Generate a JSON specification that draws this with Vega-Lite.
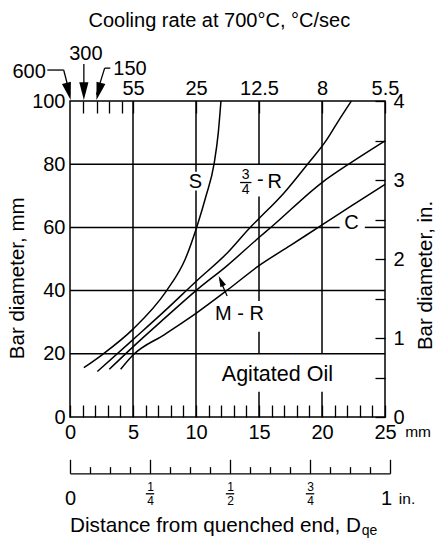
{
  "$schema": "https://vega.github.io/schema/vega-lite/v6.json",
  "width": 315,
  "height": 316,
  "autosize": {"type": "none"},
  "padding": {"left": 70, "top": 101, "right": 50, "bottom": 129},
  "background": "white",
  "config": {
    "font": "Liberation Sans",
    "view": {"stroke": "black", "strokeWidth": 1.5},
    "axis": {"labelColor": "black", "tickColor": "black", "domainColor": "black", "tickWidth": 1.3, "domainWidth": 1.3, "grid": false, "labelFlush": false, "labelOverlap": false, "labelBound": false, "labelFont": "Liberation Sans"}
  },
  "datasets": {
    "grid": [
      {"x": 0, "y": 20, "x2": 25, "y2": 20},
      {"x": 0, "y": 40, "x2": 25, "y2": 40},
      {"x": 0, "y": 60, "x2": 21.4, "y2": 60},
      {"x": 23.4, "y": 60, "x2": 25, "y2": 60},
      {"x": 0, "y": 80, "x2": 25, "y2": 80},
      {"x": 5, "y": 0, "x2": 5, "y2": 100},
      {"x": 10, "y": 0, "x2": 10, "y2": 71.7},
      {"x": 10, "y": 77.6, "x2": 10, "y2": 100},
      {"x": 15, "y": 0, "x2": 15, "y2": 8},
      {"x": 15, "y": 20, "x2": 15, "y2": 27},
      {"x": 15, "y": 36.7, "x2": 15, "y2": 69.8},
      {"x": 15, "y": 80, "x2": 15, "y2": 100},
      {"x": 20, "y": 0, "x2": 20, "y2": 8},
      {"x": 20, "y": 20, "x2": 20, "y2": 100}
    ],
    "segs": [
      {"x": -1.8, "y": 109.8, "x2": -0.5, "y2": 109.8},
      {"x": -0.5, "y": 109.8, "x2": 0, "y2": 102},
      {"x": 1.1, "y": 111.7, "x2": 1.1, "y2": 102},
      {"x": 2.75, "y": 110.4, "x2": 3.2, "y2": 110.4},
      {"x": 2.75, "y": 110.4, "x2": 2.1, "y2": 102},
      {"x": 12.47, "y": 38.3, "x2": 11.9, "y2": 43.5},
      {"x": 13.5, "y": 74.2, "x2": 14.4, "y2": 74.2},
      {"x": 6.02, "y": -24.3, "x2": 6.68, "y2": -24.3},
      {"x": 12.37, "y": -24.3, "x2": 13.03, "y2": -24.3},
      {"x": 18.72, "y": -24.3, "x2": 19.38, "y2": -24.3}
    ],
    "curves": [
      {"s": "S", "x": 1.1, "y": 15.6}, {"s": "S", "x": 2.65, "y": 20}, {"s": "S", "x": 5, "y": 27.8},
      {"s": "S", "x": 7.67, "y": 40}, {"s": "S", "x": 9.15, "y": 50}, {"s": "S", "x": 10.05, "y": 60},
      {"s": "S", "x": 10.8, "y": 70}, {"s": "S", "x": 11.43, "y": 80}, {"s": "S", "x": 11.77, "y": 90},
      {"s": "S", "x": 11.98, "y": 100},
      {"s": "3/4-R", "x": 2.17, "y": 14.4}, {"s": "3/4-R", "x": 5, "y": 24.5}, {"s": "3/4-R", "x": 7.5, "y": 33.5},
      {"s": "3/4-R", "x": 10, "y": 42.9}, {"s": "3/4-R", "x": 12.5, "y": 52}, {"s": "3/4-R", "x": 14.3, "y": 60},
      {"s": "3/4-R", "x": 15, "y": 62.8}, {"s": "3/4-R", "x": 17, "y": 71}, {"s": "3/4-R", "x": 18.85, "y": 80},
      {"s": "3/4-R", "x": 20.35, "y": 87.6}, {"s": "3/4-R", "x": 21.27, "y": 93.5}, {"s": "3/4-R", "x": 22.33, "y": 100},
      {"s": "M-R", "x": 3.12, "y": 15.1}, {"s": "M-R", "x": 5, "y": 22.2}, {"s": "M-R", "x": 7.5, "y": 31.2},
      {"s": "M-R", "x": 10, "y": 40}, {"s": "M-R", "x": 12.5, "y": 48}, {"s": "M-R", "x": 15, "y": 56.8},
      {"s": "M-R", "x": 16, "y": 60.2}, {"s": "M-R", "x": 20, "y": 74.2}, {"s": "M-R", "x": 22.3, "y": 80.5},
      {"s": "M-R", "x": 25, "y": 87.4},
      {"s": "C", "x": 4.02, "y": 15.1}, {"s": "C", "x": 5, "y": 19.6}, {"s": "C", "x": 7.5, "y": 26.1},
      {"s": "C", "x": 10, "y": 32.8}, {"s": "C", "x": 12.5, "y": 40.2}, {"s": "C", "x": 15, "y": 47.9},
      {"s": "C", "x": 17.5, "y": 54.3}, {"s": "C", "x": 19.7, "y": 60}, {"s": "C", "x": 22.3, "y": 66.7},
      {"s": "C", "x": 25, "y": 73.6}
    ],
    "labels": [
      {"t": "S", "x": 9.95, "y": 74.4},
      {"t": "-", "x": 15.1, "y": 74.9},
      {"t": "R", "x": 16.24, "y": 74.4},
      {"t": "C", "x": 22.33, "y": 61.5},
      {"t": "M - R", "x": 13.45, "y": 32.5},
      {"t": "600", "x": -3.24, "y": 109.3},
      {"t": "300", "x": 1.26, "y": 114.8},
      {"t": "150", "x": 4.76, "y": 110.1}
    ]
  },
  "resolve": {"scale": {"x": "independent", "y": "independent"}},
  "layer": [
    {
      "encoding": {
        "x": {"field": "x", "type": "quantitative", "scale": {"domain": [0, 25], "nice": false, "zero": false},
          "axis": {"orient": "bottom", "title": null, "values": [0,1,2,3,4,5,6,7,8,9,10,11,12,13,14,15,16,17,18,19,20,21,22,23,24,25],
            "offset": -12, "tickSize": 12, "domain": false, "labelExpr": "datum.value % 5 === 0 ? datum.label : ''", "labelFontSize": 20, "labelPadding": 5}},
        "y": {"field": "y", "type": "quantitative", "scale": {"domain": [0, 100], "nice": false, "zero": false},
          "axis": {"orient": "left", "title": null, "values": [0, 20, 40, 60, 80, 100], "ticks": false, "tickSize": 0, "domain": false, "labelFontSize": 20, "labelPadding": 5}}
      },
      "layer": [
        {"data": {"name": "grid"}, "mark": {"type": "rule", "color": "black", "strokeWidth": 1.5}, "encoding": {"x2": {"field": "x2"}, "y2": {"field": "y2"}}},
        {"data": {"name": "segs"}, "mark": {"type": "rule", "color": "black", "strokeWidth": 1.3}, "encoding": {"x2": {"field": "x2"}, "y2": {"field": "y2"}}},
        {"data": {"name": "curves"}, "mark": {"type": "line", "color": "black", "strokeWidth": 1.5, "interpolate": "monotone"}, "encoding": {"detail": {"field": "s"}}},
        {"data": {"values": [{"x": 0.05, "y": 100.3}]}, "mark": {"type": "point", "filled": true, "color": "black", "opacity": 1, "shape": "M -0.52 -2 L 0.52 -2 L 0 0 Z", "size": 313, "angle": 346.3}},
        {"data": {"values": [{"x": 1.1, "y": 100.3}]}, "mark": {"type": "point", "filled": true, "color": "black", "opacity": 1, "shape": "M -0.52 -2 L 0.52 -2 L 0 0 Z", "size": 313, "angle": 0}},
        {"data": {"values": [{"x": 2.1, "y": 100.3}]}, "mark": {"type": "point", "filled": true, "color": "black", "opacity": 1, "shape": "M -0.52 -2 L 0.52 -2 L 0 0 Z", "size": 313, "angle": 14.7}},
        {"data": {"values": [{"x": 11.8, "y": 44.6}]}, "mark": {"type": "point", "filled": true, "color": "black", "opacity": 1, "shape": "M -0.55 -2 L 0.55 -2 L 0 0 Z", "size": 121, "angle": 155.5}},
        {"data": {"name": "labels"}, "mark": {"type": "text", "color": "black", "fontSize": 20, "align": "center", "baseline": "middle"}, "encoding": {"text": {"field": "t"}}},
        {"data": {"values": [{"t": "Agitated Oil", "x": 16.46, "y": 13.4}]}, "mark": {"type": "text", "color": "black", "fontSize": 21.5, "align": "center", "baseline": "middle"}, "encoding": {"text": {"field": "t"}}},
        {"data": {"values": [{"t": "3", "x": 13.94, "y": 76.6}, {"t": "4", "x": 13.94, "y": 71.8}]}, "mark": {"type": "text", "color": "black", "fontSize": 14, "align": "center", "baseline": "middle"}, "encoding": {"text": {"field": "t"}}},
        {"data": {"values": [{"t": "Cooling rate at 700°C, °C/sec", "x": 11.85, "y": 123.3}]}, "mark": {"type": "text", "color": "black", "fontSize": 20, "align": "center", "baseline": "alphabetic"}, "encoding": {"text": {"field": "t"}}},
        {"data": {"values": [{"t": "Distance from quenched end, D", "x": 0, "y": -36.4}]}, "mark": {"type": "text", "color": "black", "fontSize": 20.7, "align": "left", "baseline": "alphabetic"}, "encoding": {"text": {"field": "t"}}},
        {"data": {"values": [{"t": "qe", "x": 23.15, "y": -37.4}]}, "mark": {"type": "text", "color": "black", "fontSize": 14, "align": "left", "baseline": "alphabetic"}, "encoding": {"text": {"field": "t"}}},
        {"data": {"values": [{"t": "mm", "x": 26.6, "y": -6.33}, {"t": "in.", "x": 26.1, "y": -27.4}]}, "mark": {"type": "text", "color": "black", "fontSize": 15.5, "align": "left", "baseline": "alphabetic"}, "encoding": {"text": {"field": "t"}}},
        {"data": {"values": [{"t": "Bar diameter, mm", "x": -3.65, "y": 43.9}, {"t": "Bar diameter, in.", "x": 28.7, "y": 44.8}]}, "mark": {"type": "text", "color": "black", "fontSize": 20.5, "align": "center", "baseline": "alphabetic", "angle": 270}, "encoding": {"text": {"field": "t"}}}
      ]
    },
    {
      "data": {"values": [{"x": 0}]},
      "mark": {"type": "rule", "opacity": 0},
      "encoding": {
        "x": {"field": "x", "type": "quantitative", "scale": {"domain": [0, 25], "nice": false, "zero": false},
          "axis": {"orient": "top", "title": null, "values": [1.06, 2.12, 3.12, 4.13, 5, 10, 15, 20, 25], "offset": -12, "tickSize": 12, "domain": false,
            "labelExpr": "datum.value == 5 ? '55' : datum.value == 10 ? '25' : datum.value == 15 ? '12.5' : datum.value == 20 ? '8' : datum.value == 25 ? '5.5' : ''",
            "labelFontSize": 20, "labelPadding": 3}}
      }
    },
    {
      "data": {"values": [{"yin": 0}]},
      "mark": {"type": "rule", "opacity": 0},
      "encoding": {
        "y": {"field": "yin", "type": "quantitative", "scale": {"domain": [0, 4], "nice": false, "zero": false},
          "axis": {"orient": "right", "title": null, "values": [0, 0.5, 1, 1.5, 2, 2.5, 3, 3.5, 4], "offset": -10, "tickSize": 10, "domain": false,
            "labelExpr": "datum.value % 1 === 0 ? format(datum.value, 'd') : ''", "labelFontSize": 20, "labelPadding": 8}}
      }
    },
    {
      "data": {"values": [{"xin": 0}]},
      "mark": {"type": "rule", "opacity": 0},
      "encoding": {
        "x": {"field": "xin", "type": "quantitative", "scale": {"domain": [0, 1], "range": [0, 320], "nice": false, "zero": false},
          "axis": {"orient": "top", "title": null, "values": [0, 0.25, 0.5, 0.75, 1], "offset": -372.3, "tickSize": 14, "domain": true, "labels": false}}
      }
    },
    {
      "data": {"values": [{"xin": 0}]},
      "mark": {"type": "rule", "opacity": 0},
      "encoding": {
        "x": {"field": "xin", "type": "quantitative", "scale": {"domain": [0, 1], "range": [0, 320], "nice": false, "zero": false},
          "axis": {"orient": "top", "title": null, "values": [0.0625, 0.125, 0.1875, 0.3125, 0.375, 0.4375, 0.5625, 0.625, 0.6875, 0.8125, 0.875, 0.9375], "offset": -372.3, "tickSize": 6.7, "domain": false, "labels": false}}
      }
    },
    {
      "data": {"values": [{"xin": 0}]},
      "mark": {"type": "rule", "opacity": 0},
      "encoding": {
        "x": {"field": "xin", "type": "quantitative", "scale": {"domain": [0, 1], "range": [0, 320], "nice": false, "zero": false},
          "axis": {"orient": "bottom", "title": null, "values": [0, 1], "offset": 56.3, "ticks": false, "tickSize": 0, "domain": false,
            "labelExpr": "datum.value == 0 ? '0' : '1'", "labelFontSize": 20, "labelPadding": 15,
            "labelOffset": {"condition": {"test": "datum.value == 1", "value": -4}, "value": 0}}}
      }
    },
    {
      "data": {"values": [{"xin": 0}]},
      "mark": {"type": "rule", "opacity": 0},
      "encoding": {
        "x": {"field": "xin", "type": "quantitative", "scale": {"domain": [0, 1], "range": [0, 320], "nice": false, "zero": false},
          "axis": {"orient": "bottom", "title": null, "values": [0.25, 0.5, 0.75], "offset": 56.3, "ticks": false, "tickSize": 0, "domain": false,
            "labelExpr": "datum.value == 0.25 ? ['1','4'] : datum.value == 0.5 ? ['1','2'] : ['3','4']", "labelFontSize": 12, "labelLineHeight": 14.5, "labelBaseline": "top", "labelPadding": 8}}
      }
    }
  ]
}
